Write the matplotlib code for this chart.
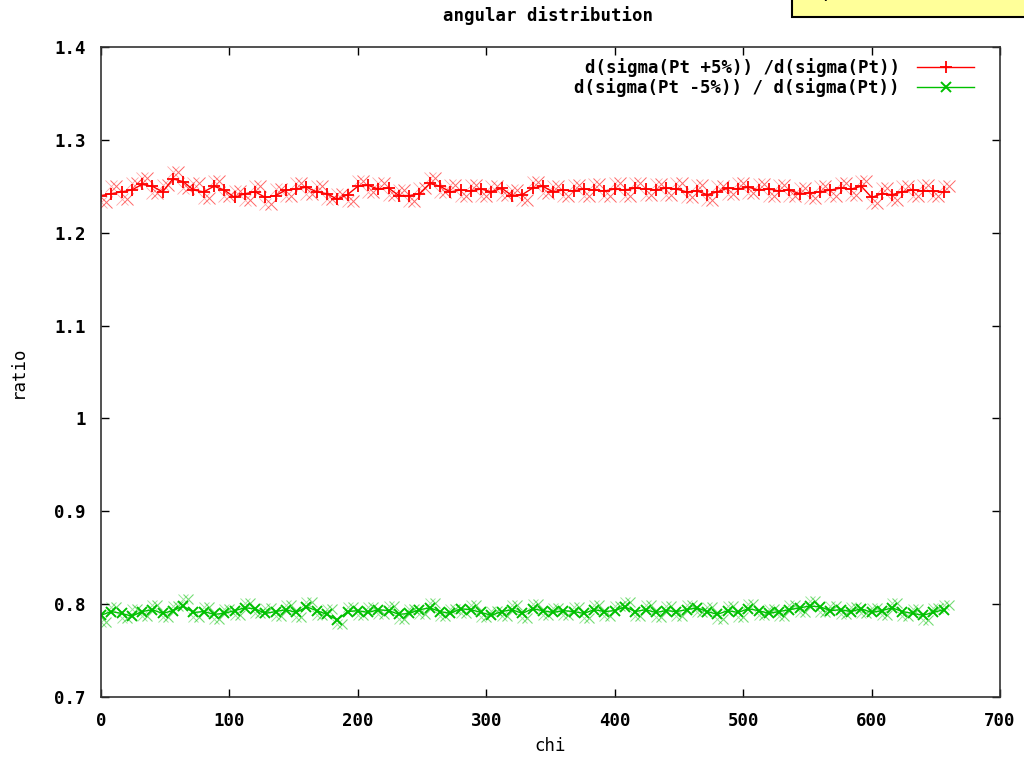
import numpy as np
import matplotlib
matplotlib.use('Agg')
import matplotlib.pyplot as plt
from matplotlib.patches import Rectangle

matplotlib.rcParams.update({'font.family': 'DejaVu Sans Mono', 'font.weight': 'bold', 'font.size': 12.5})

chi = np.arange(0, 657, 8)

# d(sigma(Pt +5%)) / d(sigma(Pt)), binned curve and the per-point values
plus_line = [1.240, 1.242, 1.244, 1.246, 1.252, 1.250, 1.244, 1.258, 1.255, 1.246,
             1.244, 1.250, 1.246, 1.238, 1.242, 1.244, 1.238, 1.240, 1.246, 1.247,
             1.249, 1.244, 1.242, 1.236, 1.241, 1.250, 1.251, 1.247, 1.248, 1.240,
             1.240, 1.242, 1.253, 1.250, 1.244, 1.246, 1.245, 1.247, 1.244, 1.248,
             1.240, 1.241, 1.248, 1.250, 1.244, 1.246, 1.245, 1.247, 1.246, 1.245,
             1.247, 1.246, 1.248, 1.247, 1.246, 1.248, 1.247, 1.244, 1.245, 1.241,
             1.244, 1.248, 1.247, 1.249, 1.246, 1.247, 1.245, 1.246, 1.242, 1.243,
             1.244, 1.246, 1.248, 1.247, 1.250, 1.238, 1.242, 1.241, 1.244, 1.246,
             1.245, 1.245, 1.244]
plus_pts = [1.233, 1.250, 1.236, 1.254, 1.259, 1.243, 1.251, 1.265, 1.248, 1.253,
            1.237, 1.256, 1.240, 1.245, 1.235, 1.250, 1.231, 1.247, 1.240, 1.254,
            1.242, 1.250, 1.236, 1.242, 1.234, 1.256, 1.244, 1.253, 1.241, 1.246,
            1.234, 1.248, 1.259, 1.244, 1.251, 1.239, 1.251, 1.240, 1.250, 1.241,
            1.246, 1.235, 1.255, 1.243, 1.250, 1.240, 1.251, 1.240, 1.252, 1.239,
            1.253, 1.240, 1.254, 1.241, 1.252, 1.241, 1.253, 1.238, 1.251, 1.235,
            1.250, 1.242, 1.253, 1.243, 1.252, 1.240, 1.251, 1.239, 1.248, 1.237,
            1.250, 1.240, 1.254, 1.241, 1.256, 1.232, 1.248, 1.235, 1.250, 1.240,
            1.251, 1.239, 1.250]

# d(sigma(Pt -5%)) / d(sigma(Pt))
minus_line = [0.788, 0.792, 0.790, 0.787, 0.792, 0.794, 0.790, 0.793, 0.798, 0.791,
              0.792, 0.789, 0.790, 0.793, 0.796, 0.795, 0.790, 0.792, 0.794, 0.791,
              0.797, 0.793, 0.789, 0.783, 0.792, 0.793, 0.791, 0.794, 0.793, 0.789,
              0.790, 0.794, 0.796, 0.792, 0.790, 0.795, 0.794, 0.791, 0.788, 0.792,
              0.794, 0.790, 0.795, 0.793, 0.791, 0.793, 0.792, 0.790, 0.794, 0.792,
              0.793, 0.797, 0.792, 0.794, 0.791, 0.793, 0.792, 0.794, 0.796, 0.792,
              0.789, 0.793, 0.791, 0.795, 0.793, 0.790, 0.792, 0.794, 0.796, 0.798,
              0.797, 0.793, 0.794, 0.792, 0.795, 0.791, 0.793, 0.796, 0.792, 0.790,
              0.788, 0.791, 0.794]
minus_pts = [0.781, 0.797, 0.785, 0.795, 0.787, 0.799, 0.786, 0.798, 0.805, 0.786,
             0.797, 0.784, 0.795, 0.788, 0.801, 0.790, 0.796, 0.787, 0.799, 0.786,
             0.802, 0.788, 0.795, 0.779, 0.797, 0.788, 0.797, 0.789, 0.798, 0.784,
             0.795, 0.789, 0.801, 0.787, 0.795, 0.790, 0.799, 0.786, 0.793, 0.787,
             0.799, 0.785, 0.800, 0.788, 0.796, 0.788, 0.797, 0.785, 0.799, 0.787,
             0.798, 0.802, 0.787, 0.799, 0.786, 0.798, 0.787, 0.799, 0.791, 0.797,
             0.784, 0.798, 0.786, 0.800, 0.788, 0.795, 0.787, 0.799, 0.791, 0.803,
             0.792, 0.798, 0.789, 0.797, 0.790, 0.796, 0.788, 0.801, 0.787, 0.795,
             0.783, 0.796, 0.799]

red = '#ff0000'
green = '#00c000'

fig = plt.figure(figsize=(10.24, 7.58), dpi=100)
ax = fig.add_axes([0.0986, 0.0805, 0.8780, 0.8575])

# scattered points drawn thin, offset half a bin so they fill between the curve markers
ax.plot(chi + 4, plus_pts, ls='none', marker='x', ms=8, mew=0.7, color=red, alpha=0.6)
ax.plot(chi, plus_pts, ls='none', marker='x', ms=8, mew=0.6, color=red, alpha=0.35)
l1, = ax.plot(chi, plus_line, color=red, lw=1.0, marker='+', ms=8, mew=1.3,
              label='d(sigma(Pt +5%)) /d(sigma(Pt))')
ax.plot(chi + 4, minus_pts, ls='none', marker='x', ms=7, mew=0.8, color=green, alpha=0.55)
ax.plot(chi, minus_pts, ls='none', marker='x', ms=7, mew=0.7, color=green, alpha=0.4)
l2, = ax.plot(chi, minus_line, color=green, lw=1.0, marker='x', ms=7, mew=1.4,
              label='d(sigma(Pt -5%)) / d(sigma(Pt))')

ax.set_xlim(0, 700)
ax.set_ylim(0.7, 1.4)
ax.set_xticks(np.arange(0, 701, 100))
ax.set_yticks([0.7, 0.8, 0.9, 1.0, 1.1, 1.2, 1.3, 1.4])
ax.set_yticklabels(['0.7', '0.8', '0.9', '1', '1.1', '1.2', '1.3', '1.4'])
ax.tick_params(direction='in', top=True, right=True, length=6, width=1, pad=11)
for s in ax.spines.values():
    s.set_linewidth(1.2)
    s.set_color('#333333')

ax.set_xlabel('chi', labelpad=5)
ax.set_ylabel('ratio', labelpad=20)
fig.text(0.535, 0.98, 'angular distribution', ha='center', va='center')

ax.legend(handles=[l1, l2], loc='upper right', frameon=False, markerfirst=False,
          handlelength=3.3, borderaxespad=0.3, labelspacing=0.05, handletextpad=1.0,
          bbox_to_anchor=(0.985, 1.002))

# note box running off the top edge
fig.patches.append(Rectangle((0.773, 0.978), 0.25, 0.05, transform=fig.transFigure,
                             facecolor='#ffff99', edgecolor='black', lw=1.5))
fig.text(0.8, 0.997, '(', ha='left', va='bottom', fontsize=11)

fig.savefig('out.png', dpi=100)
